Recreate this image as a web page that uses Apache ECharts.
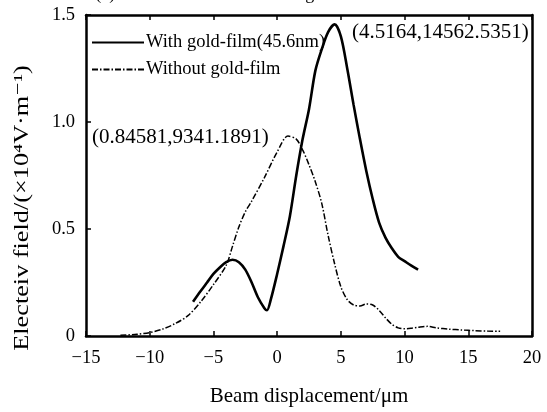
<!DOCTYPE html>
<html><head><meta charset="utf-8">
<script src="https://cdn.jsdelivr.net/npm/echarts@6/dist/echarts.min.js"></script>
<style>html,body{margin:0;padding:0;background:#fff}#c{width:547px;height:412px}</style>
</head><body><div id="c"></div>
<script>
var xTicks = [-15, -10, -5, 0, 5, 10, 15, 20];
var yTicks = [0, 0.5, 1.0, 1.5];
var seriesNames = ['With gold-film(45.6nm)', 'Without gold-film'];
var solidX = [-6.6,-6,-5.5,-5,-4.5,-4,-3.5,-3,-2.5,-2,-1.5,-1,-0.8,-0.5,0,0.5,1,1.5,2,2.5,3,3.5,4,4.5164,5,5.5,6,6.5,7,7.5,8,8.5,9,9.5,10,10.5,11.06];
var solidY = [0.16,0.21,0.25,0.29,0.32,0.345,0.356,0.345,0.31,0.25,0.18,0.13,0.12,0.17,0.29,0.42,0.56,0.75,0.92,1.06,1.24,1.34,1.42,1.456,1.40,1.25,1.08,0.92,0.77,0.64,0.53,0.46,0.41,0.37,0.35,0.33,0.31];
var dashX = [-12.3,-11,-10,-9,-8,-7,-6,-5,-4,-3.5,-3,-2.5,-2,-1,0,0.85,1.5,2,2.5,3,3.5,4,4.5,5,5.5,6,6.5,7,7.5,8,8.5,9,9.5,10,10.5,11,11.8,12.5,13.5,14.5,15.5,16.5,17.5];
var dashY = [0.003,0.008,0.016,0.032,0.058,0.095,0.16,0.24,0.33,0.42,0.51,0.58,0.63,0.74,0.86,0.934,0.92,0.87,0.80,0.72,0.62,0.47,0.34,0.23,0.17,0.145,0.14,0.15,0.145,0.12,0.085,0.055,0.038,0.034,0.036,0.04,0.045,0.038,0.032,0.028,0.025,0.023,0.022];
var peak1 = ['(4.5164,14562.5351)'];
var peak2 = ['(0.84581,9341.1891)'];
var titleText = '(a) Beam without and with a gold-film of 45.6nm';
var xName = 'Beam displacement/μm';
var yName = 'Electeiv field/(×10⁴V·m⁻¹)';

function pairs(xs, ys){ return xs.map(function(x,i){ return [x, ys[i]]; }); }
var FONT = '"Liberation Serif","DejaVu Serif",serif';
var chart = echarts.init(document.getElementById('c'));
chart.setOption({
  animation: false,
  backgroundColor: '#fff',
  grid: {left: 86, right: 15, top: 15, bottom: 69},
  legend: {
    orient: 'vertical', left: 86, top: 28, itemWidth: 52, itemHeight: 14, itemGap: 8,
    itemStyle: {opacity: 0},
    textStyle: {fontFamily: FONT, fontSize: 18.5, color: '#000', padding: [0, 0, 0, -3]},
    data: seriesNames
  },
  xAxis: [{
    type: 'value', min: -15, max: 20, interval: 5,
    name: xName, nameLocation: 'middle', nameGap: 50,
    nameTextStyle: {fontFamily: FONT, fontSize: 21, color: '#000'},
    axisLine: {onZero: false, lineStyle: {color: '#000', width: 2.5}},
    axisTick: {inside: true, length: 5, lineStyle: {color: '#000', width: 1.5}},
    axisLabel: {fontFamily: FONT, fontSize: 18.5, color: '#000', margin: 13,
      formatter: function(v){ return String(v).replace('-', '−'); }},
    splitLine: {show: false}
  }, {
    type: 'value', min: -15, max: 20, interval: 5, position: 'top',
    axisLine: {onZero: false, lineStyle: {color: '#000', width: 2.5}},
    axisTick: {inside: true, length: 5, lineStyle: {color: '#000', width: 1.5}},
    axisLabel: {show: false}, splitLine: {show: false}
  }],
  yAxis: [{
    type: 'value', min: 0, max: 1.5, interval: 0.5,
    axisLine: {show: true, onZero: false, lineStyle: {color: '#000', width: 2.5}},
    axisTick: {show: true, inside: true, length: 5, lineStyle: {color: '#000', width: 1.5}},
    axisLabel: {fontFamily: FONT, fontSize: 18.5, color: '#000', margin: 11,
      formatter: function(v){ return v === 0 ? '0' : v.toFixed(1); }},
    splitLine: {show: false}
  }, {
    type: 'value', min: 0, max: 1.5, interval: 0.5, position: 'right',
    axisLine: {show: true, onZero: false, lineStyle: {color: '#000', width: 2.5}},
    axisTick: {show: false}, axisLabel: {show: false}, splitLine: {show: false}
  }],
  series: [{
    name: seriesNames[0], type: 'line', smooth: 0.3, symbol: 'none',
    data: pairs(solidX, solidY),
    lineStyle: {color: '#000', width: 2.6}, itemStyle: {color: '#000'}
  }, {
    name: seriesNames[1], type: 'line', smooth: 0.3, symbol: 'none',
    data: pairs(dashX, dashY),
    lineStyle: {color: '#000', width: 1.5, type: [6, 2, 1.5, 2]}, itemStyle: {color: '#000'}
  }],
  graphic: [
    {type: 'text', left: 'center', top: -15, style: {text: titleText, font: '18px ' + FONT, fill: '#000'}},
    {type: 'text', left: 352, top: 22, style: {text: peak1[0], font: '21px ' + FONT, fill: '#000'}},
    {type: 'text', left: 92, top: 127, style: {text: peak2[0], font: '21px ' + FONT, fill: '#000'}},
    {type: 'text', x: 22, y: 208, rotation: Math.PI / 2, scaleX: 1.25,
      style: {text: yName, font: '21px ' + FONT, fill: '#000', align: 'center', verticalAlign: 'middle'}}
  ]
});
</script></body></html>
